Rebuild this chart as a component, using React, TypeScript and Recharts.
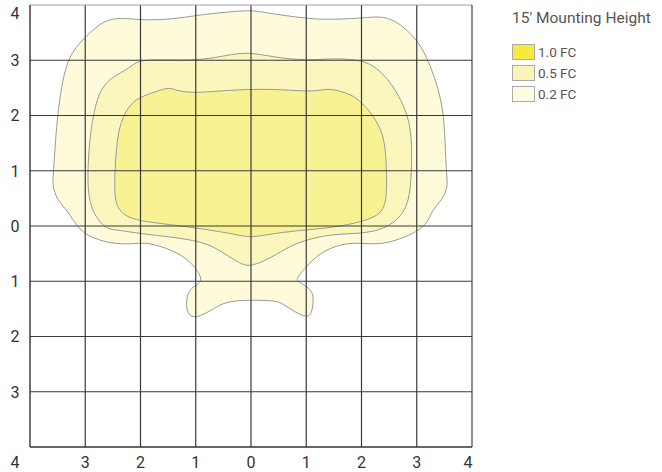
import React from 'react';
import { ComposedChart, Scatter, XAxis, YAxis, ReferenceLine } from 'recharts';

const X_TICKS = [-4, -3, -2, -1, 0, 1, 2, 3, 4];
const Y_TICKS = [-3, -2, -1, 0, 1, 2, 3, 4];
const GRID_X = [-3, -2, -1, 0, 1, 2, 3];
const GRID_Y = [-3, -2, -1, 0, 1, 2, 3];

const CONTOUR_02 = [
  { x: 0, y: 3.91 }, { x: 0.2, y: 3.87 }, { x: 0.81, y: 3.78 }, { x: 1.29, y: 3.73 },
  { x: 2.01, y: 3.76 }, { x: 2.32, y: 3.8 }, { x: 2.62, y: 3.73 }, { x: 2.99, y: 3.4 },
  { x: 3.22, y: 3.0 }, { x: 3.46, y: 2.28 }, { x: 3.51, y: 1.68 }, { x: 3.53, y: 1.01 },
  { x: 3.57, y: 0.71 }, { x: 3.46, y: 0.47 }, { x: 3.28, y: 0.29 }, { x: 3.19, y: 0.05 },
  { x: 3.04, y: -0.07 }, { x: 2.81, y: -0.2 }, { x: 2.37, y: -0.34 }, { x: 2.01, y: -0.31 },
  { x: 1.65, y: -0.31 }, { x: 1.23, y: -0.49 }, { x: 1.0, y: -0.74 }, { x: 0.78, y: -0.98 },
  { x: 0.92, y: -1.03 }, { x: 1.09, y: -1.16 }, { x: 1.14, y: -1.29 }, { x: 1.1, y: -1.61 },
  { x: 1.0, y: -1.65 }, { x: 0.81, y: -1.57 }, { x: 0.56, y: -1.39 }, { x: 0.38, y: -1.34 },
  { x: -0.4, y: -1.34 }, { x: -0.63, y: -1.47 }, { x: -0.94, y: -1.65 }, { x: -1.09, y: -1.65 },
  { x: -1.18, y: -1.52 }, { x: -1.16, y: -1.19 }, { x: -1.0, y: -1.07 }, { x: -0.85, y: -0.98 },
  { x: -1.07, y: -0.67 }, { x: -1.3, y: -0.49 }, { x: -1.79, y: -0.31 }, { x: -2.03, y: -0.31 },
  { x: -2.44, y: -0.34 }, { x: -2.88, y: -0.22 }, { x: -3.11, y: -0.07 }, { x: -3.33, y: 0.29 },
  { x: -3.51, y: 0.47 }, { x: -3.6, y: 0.74 }, { x: -3.57, y: 1.01 }, { x: -3.51, y: 2.05 },
  { x: -3.35, y: 3.0 }, { x: -3.11, y: 3.31 }, { x: -2.75, y: 3.67 }, { x: -2.44, y: 3.78 },
  { x: -2.03, y: 3.73 }, { x: -1.67, y: 3.73 }, { x: -1.3, y: 3.76 }, { x: -0.94, y: 3.82 },
  { x: -0.45, y: 3.87 },
];

const CONTOUR_05 = [
  { x: -0.04, y: 3.15 }, { x: 0.38, y: 3.06 }, { x: 1.0, y: 2.99 }, { x: 1.54, y: 3.04 },
  { x: 2.01, y: 3.0 }, { x: 2.26, y: 2.88 }, { x: 2.55, y: 2.59 }, { x: 2.81, y: 2.1 },
  { x: 2.91, y: 1.68 }, { x: 2.91, y: 0.96 }, { x: 2.86, y: 0.42 }, { x: 2.68, y: 0.11 },
  { x: 2.26, y: -0.13 }, { x: 1.59, y: -0.14 }, { x: 1.18, y: -0.2 }, { x: 0.74, y: -0.34 },
  { x: 0.51, y: -0.49 }, { x: 0, y: -0.76 }, { x: -0.22, y: -0.67 }, { x: -0.58, y: -0.43 },
  { x: -0.94, y: -0.25 }, { x: -2.03, y: -0.14 }, { x: -2.39, y: -0.07 }, { x: -2.62, y: -0.07 },
  { x: -2.88, y: 0.24 }, { x: -2.97, y: 0.71 }, { x: -2.93, y: 1.56 }, { x: -2.81, y: 2.28 },
  { x: -2.62, y: 2.64 }, { x: -2.26, y: 2.82 }, { x: -2.08, y: 2.97 }, { x: -1.85, y: 3.02 },
  { x: -0.94, y: 2.99 }, { x: -0.45, y: 3.09 },
];

const CONTOUR_10 = [
  { x: -0.4, y: 2.46 }, { x: 0.2, y: 2.48 }, { x: 0.69, y: 2.46 }, { x: 1.18, y: 2.43 },
  { x: 1.41, y: 2.5 }, { x: 1.72, y: 2.41 }, { x: 1.9, y: 2.33 }, { x: 2.14, y: 2.1 },
  { x: 2.37, y: 1.74 }, { x: 2.44, y: 1.38 }, { x: 2.46, y: 0.78 }, { x: 2.44, y: 0.34 },
  { x: 2.26, y: 0.16 }, { x: 1.9, y: 0.05 }, { x: 1.41, y: -0.04 }, { x: 0.51, y: -0.11 },
  { x: 0, y: -0.22 }, { x: -0.22, y: -0.16 }, { x: -0.94, y: -0.04 }, { x: -1.67, y: 0.05 },
  { x: -2.15, y: 0.11 }, { x: -2.44, y: 0.29 }, { x: -2.48, y: 0.71 }, { x: -2.44, y: 1.38 },
  { x: -2.39, y: 1.79 }, { x: -2.24, y: 2.15 }, { x: -2.03, y: 2.33 }, { x: -1.72, y: 2.43 },
  { x: -1.48, y: 2.52 }, { x: -1.3, y: 2.43 }, { x: -0.94, y: 2.41 },
];

const LEGEND_TITLE = "15' Mounting Height";
const LEGEND_LABELS = ['1.0 FC', '0.5 FC', '0.2 FC'];
const LEGEND_COLORS = ['#f8ea3c', '#fbf5b5', '#fefce0'];

const FONT = 'Roboto, "Open Sans", sans-serif';
const noShape = () => <g />;

const XTick = (props: any) => {
  const { x, y, payload } = props;
  const v = payload.value;
  let px = x;
  if (v === -4) px = x - 15;
  if (v === 4) px = x - 4;
  return (
    <text x={px} y={y} dy={13} textAnchor="middle" fill="#333" fontSize={16} fontFamily={FONT}>
      {Math.abs(v)}
    </text>
  );
};

const YTick = (props: any) => {
  const { x, y, payload } = props;
  const v = payload.value;
  const py = v === 4 ? y + 8 : y;
  return (
    <text x={x - 7} y={py} dy={5.8} textAnchor="middle" fill="#333" fontSize={16} fontFamily={FONT}>
      {Math.abs(v)}
    </text>
  );
};

export default function App() {
  return (
    <div style={{ position: 'absolute', left: 0, top: 0, width: 662, height: 472, background: '#fff' }}>
      <ComposedChart width={662} height={472} margin={{ top: 5, right: 190, bottom: 0, left: 0 }}>
        <XAxis
          type="number"
          dataKey="x"
          domain={[-4, 4]}
          ticks={X_TICKS}
          allowDataOverflow
          tickLine={false}
          axisLine={false}
          height={25}
          tick={XTick}
          interval={0}
        />
        <YAxis
          type="number"
          dataKey="y"
          domain={[-4, 4]}
          ticks={Y_TICKS}
          allowDataOverflow
          tickLine={false}
          axisLine={false}
          width={30}
          tick={YTick}
          interval={0}
        />
        <Scatter
          data={CONTOUR_02}
          fill="#fdfbd9"
          shape={noShape}
          line={{ fill: '#fdfbd9', stroke: '#9a9a9a', strokeWidth: 1 }}
          lineJointType="basisClosed"
          isAnimationActive={false}
        />
        <Scatter
          data={CONTOUR_05}
          fill="#fbf6bb"
          shape={noShape}
          line={{ fill: '#fbf6bb', stroke: '#9a9a9a', strokeWidth: 1 }}
          lineJointType="basisClosed"
          isAnimationActive={false}
        />
        <Scatter
          data={CONTOUR_10}
          fill="#f9f293"
          shape={noShape}
          line={{ fill: '#f9f293', stroke: '#9a9a9a', strokeWidth: 1 }}
          lineJointType="basisClosed"
          isAnimationActive={false}
        />
        {GRID_X.map((v) => (
          <ReferenceLine key={'gx' + v} x={v} stroke="#3a3a3a" strokeWidth={1.2} zIndex={700} />
        ))}
        {GRID_Y.map((v) => (
          <ReferenceLine key={'gy' + v} y={v} stroke="#3a3a3a" strokeWidth={1.2} zIndex={700} />
        ))}
        <ReferenceLine y={4} stroke="#a0a0a0" strokeWidth={1.2} zIndex={700} />
        <ReferenceLine x={4} stroke="#444" strokeWidth={1.2} zIndex={700} />
        <ReferenceLine x={-4} stroke="#333" strokeWidth={1.4} zIndex={700} />
        <ReferenceLine y={-4} stroke="#333" strokeWidth={1.4} zIndex={700} />
      </ComposedChart>
      <div style={{ position: 'absolute', left: 512, top: 9, fontFamily: FONT, color: '#555' }}>
        <div style={{ fontSize: 15.5, lineHeight: '18px', whiteSpace: 'nowrap' }}>{LEGEND_TITLE}</div>
        <div style={{ marginTop: 14 }}>
          {LEGEND_LABELS.map((label, i) => (
            <div key={label} style={{ display: 'flex', alignItems: 'center', height: 21 }}>
              <div
                style={{
                  width: 21,
                  height: 14,
                  background: LEGEND_COLORS[i],
                  border: '1px solid #aaa',
                  marginRight: 3,
                }}
              />
              <span style={{ fontSize: 13.5, lineHeight: '16px' }}>{label}</span>
            </div>
          ))}
        </div>
      </div>
    </div>
  );
}
